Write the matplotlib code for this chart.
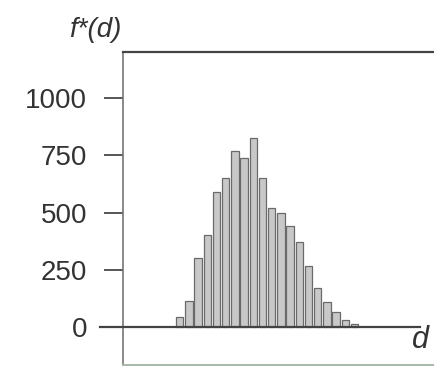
import matplotlib
matplotlib.use('Agg')
import numpy as np
import matplotlib.pyplot as plt

# ── 데이터 ─────────────────────────────────────────
bins = np.arange(20)
counts = [45, 115, 300, 400, 590, 650, 770, 740, 825, 650,
          520, 500, 440, 370, 265, 170, 110, 65, 30, 12]
yticks = [0, 250, 500, 750, 1000]

plt.rcParams['font.family'] = ['Liberation Sans', 'DejaVu Sans']
INK = '#333333'

fig = plt.figure(figsize=(4.34, 3.68), dpi=100)
ax = fig.add_axes([123 / 434, 3 / 368, 311 / 434, 313 / 368])

# ── 막대 ──
ax.bar(bins, counts, width=0.8, align='edge',
       color='#c8c8c8', edgecolor='#6a6a6a', linewidth=0.9, zorder=2)

# ── 기준선 (d축) ──
ax.plot([-8.3, 26.5], [0, 0], color='#444444', lw=1.6,
        clip_on=False, zorder=3)

ax.set_xlim(-5.76, 28.04)
ax.set_ylim(-166, 1201)
ax.set_xticks([])
ax.set_yticks(yticks)
ax.set_yticklabels([str(v) for v in yticks], fontsize=20, color=INK)
ax.tick_params(axis='y', direction='out', length=14, width=1.4,
               color='#555555', pad=12)

ax.spines['right'].set_visible(False)
ax.spines['top'].set_color('#444444')
ax.spines['top'].set_linewidth(1.6)
ax.spines['left'].set_color('#777777')
ax.spines['left'].set_linewidth(1.2)
ax.spines['bottom'].set_color('#a8b8a8')
ax.spines['bottom'].set_linewidth(1.4)

# ── 축 라벨 ──
fig.text(121 / 434, 1 - 30 / 368, 'f*(d)', ha='right', va='center',
         fontsize=20, style='italic', color=INK)
ax.text(25.6, -55, 'd', ha='left', va='center', fontsize=22,
        style='italic', color=INK, clip_on=False)

fig.savefig('out.png', dpi=100)
plt.close(fig)
